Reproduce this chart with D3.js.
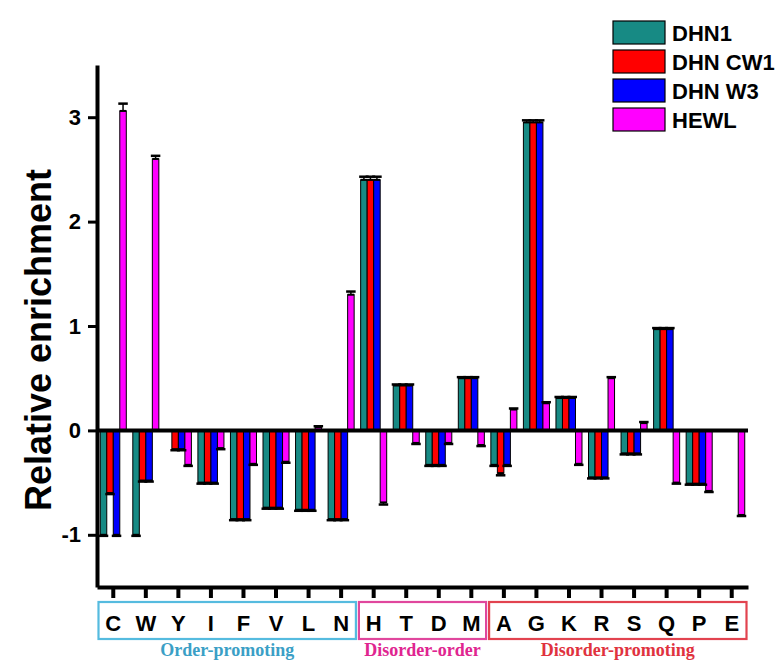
<!DOCTYPE html>
<html>
<head>
<meta charset="utf-8">
<script src="https://cdn.jsdelivr.net/npm/d3@7"></script>
<style>
  html, body { margin: 0; padding: 0; background: #fff; }
  svg { display: block; }
</style>
</head>
<body>
<svg id="chart" width="783" height="662"></svg>
<script>
// Amino-acid residues, grouped as order-promoting, disorder-order and disorder-promoting
const categories = ["C","W","Y","I","F","V","L","N","H","T","D","M","A","G","K","R","S","Q","P","E"];
const seriesNames = ["DHN1", "DHN CW1", "DHN W3", "HEWL"];
const seriesColors = ["#178a84", "#ff0000", "#0000ff", "#ff00ff"];

// Relative enrichment per residue
const dhn1   = [-1, -1, 0, -0.5, -0.85, -0.74, -0.76, -0.85, 2.4, 0.43, -0.33, 0.5, -0.33, 2.95, 0.31, -0.45, -0.22, 0.97, -0.51, 0];
const dhnCW1 = [-0.6, -0.48, -0.18, -0.5, -0.85, -0.74, -0.76, -0.85, 2.4, 0.43, -0.33, 0.5, -0.41, 2.95, 0.31, -0.45, -0.22, 0.97, -0.51, 0];
const dhnW3  = [-1, -0.48, -0.18, -0.5, -0.85, -0.74, -0.76, -0.85, 2.4, 0.43, -0.33, 0.5, -0.33, 2.95, 0.31, -0.45, -0.22, 0.97, -0.51, 0];
const hewl   = [3.06, 2.6, -0.33, -0.17, -0.32, -0.3, 0.03, 1.3, -0.69, -0.12, -0.12, -0.14, 0.2, 0.26, -0.32, 0.5, 0.07, -0.5, -0.58, -0.81];

// Error margins (same order as the values)
const dhn1Err   = [0.01,0.01,0,0.01,0.01,0.01,0.01,0.01,0.03,0.01,0.01,0.01,0.01,0.02,0.01,0.01,0.01,0.01,0.01,0];
const dhnCW1Err = [0.01,0.01,0.01,0.01,0.01,0.01,0.01,0.01,0.03,0.01,0.01,0.01,0.02,0.02,0.01,0.01,0.01,0.01,0.01,0];
const dhnW3Err  = [0.01,0.01,0.01,0.01,0.01,0.01,0.01,0.01,0.03,0.01,0.01,0.01,0.01,0.02,0.01,0.01,0.01,0.01,0.01,0];
const hewlErr   = [0.07,0.03,0.01,0.01,0.01,0.01,0.01,0.03,0.02,0.01,0.01,0.01,0.01,0.01,0.01,0.01,0.01,0.01,0.01,0.01];

const yTicks = [-1, 0, 1, 2, 3];

// Residue groups shown as boxes under the axis
const groupNames  = ["Order-promoting", "Disorder-order", "Disorder-promoting"];
const groupFirst  = ["C", "H", "A"];
const groupLast   = ["N", "M", "E"];
const groupBoxColors  = ["#55bbdf", "#e0479d", "#e2434f"];
const groupTextColors = ["#3b9fc6", "#e02590", "#e0323e"];

const seriesValues = [dhn1, dhnCW1, dhnW3, hewl];
const seriesErrors = [dhn1Err, dhnCW1Err, dhnW3Err, hewlErr];

const svg = d3.select("#chart");
const FONT = "Arial, 'Liberation Sans', sans-serif";

const x = d3.scaleBand().domain(categories).range([97, 748]).paddingInner(0.2).paddingOuter(0.1);
const xs = d3.scaleBand().domain(seriesNames).range([0, x.bandwidth()]);
const y = d3.scaleLinear().domain([-1.5, 3.5]).range([587, 65]);
const color = d3.scaleOrdinal().domain(seriesNames).range(seriesColors);

const rows = [];
categories.forEach((c, i) => {
  seriesNames.forEach((s, k) => {
    rows.push({ cat: c, series: s, value: seriesValues[k][i], err: seriesErrors[k][i] });
  });
});
const drawn = rows.filter(d => d.value !== 0);

// Bars
const bars = svg.append("g");
bars.selectAll("rect").data(drawn).join("rect")
  .attr("x", d => x(d.cat) + xs(d.series))
  .attr("width", xs.bandwidth())
  .attr("y", d => y(Math.max(0, d.value)))
  .attr("height", d => Math.abs(y(d.value) - y(0)))
  .attr("fill", d => color(d.series))
  .attr("stroke", "#000")
  .attr("stroke-width", 1);

// Error bars
const errG = bars.append("g").attr("stroke", "#000");
drawn.forEach(d => {
  const cx = x(d.cat) + xs(d.series) + xs.bandwidth() / 2;
  const sgn = d.value >= 0 ? 1 : -1;
  const tip = d.value + sgn * d.err;
  errG.append("line")
    .attr("x1", cx).attr("x2", cx)
    .attr("y1", y(d.value)).attr("y2", y(tip))
    .attr("stroke-width", 1.5);
  errG.append("line")
    .attr("x1", cx - xs.bandwidth() / 2 - 1.5).attr("x2", cx + xs.bandwidth() / 2 + 1.5)
    .attr("y1", y(tip)).attr("y2", y(tip))
    .attr("stroke-width", 2.5);
  errG.append("line")
    .attr("x1", cx - xs.bandwidth() / 2).attr("x2", cx + xs.bandwidth() / 2)
    .attr("y1", y(d.value)).attr("y2", y(d.value))
    .attr("stroke-width", 2);
});

// Zero line
svg.append("line")
  .attr("x1", x.range()[0]).attr("x2", x.range()[1])
  .attr("y1", y(0)).attr("y2", y(0))
  .attr("stroke", "#000").attr("stroke-width", 4);

// Y axis
const yAxis = svg.append("g")
  .attr("transform", `translate(${x.range()[0]},0)`)
  .call(d3.axisLeft(y).tickValues(yTicks).tickFormat(d => String(d)).tickSize(9).tickSizeOuter(0).tickPadding(7));
yAxis.select(".domain").attr("stroke-width", 4);
yAxis.selectAll(".tick line").attr("stroke-width", 3);
yAxis.selectAll(".tick text").attr("font-family", FONT).attr("font-weight", "bold").attr("font-size", 22).attr("fill", "#000");

// X axis
const xAxis = svg.append("g")
  .attr("transform", `translate(0,${y(-1.5)})`)
  .call(d3.axisBottom(x).tickSize(11).tickSizeOuter(0).tickPadding(17));
xAxis.select(".domain").attr("stroke-width", 4);
xAxis.selectAll(".tick line").attr("stroke-width", 4);
xAxis.selectAll(".tick text").attr("font-family", FONT).attr("font-weight", "bold").attr("font-size", 22).attr("fill", "#000");

// Group boxes and captions
const step = x.step();
groupNames.forEach((g, i) => {
  const x0 = x(groupFirst[i]) - (step - x.bandwidth()) / 2 + 1.5;
  const x1 = x(groupLast[i]) + x.bandwidth() + (step - x.bandwidth()) / 2 - 1.5;
  svg.append("rect")
    .attr("x", x0).attr("y", 602)
    .attr("width", x1 - x0).attr("height", 37)
    .attr("fill", "none").attr("stroke", groupBoxColors[i]).attr("stroke-width", 2.2);
  svg.append("text")
    .attr("x", (x0 + x1) / 2).attr("y", 656)
    .attr("text-anchor", "middle")
    .attr("font-family", "'Times New Roman', 'Liberation Serif', serif")
    .attr("font-weight", "bold").attr("font-size", 18)
    .attr("fill", groupTextColors[i])
    .text(g);
});

// Y axis title
svg.append("text")
  .attr("transform", "translate(51,340) rotate(-90)")
  .attr("text-anchor", "middle")
  .attr("font-family", FONT).attr("font-weight", "bold").attr("font-size", 36)
  .attr("fill", "#000")
  .text("Relative enrichment");

// Legend
const legend = svg.append("g").attr("transform", "translate(613,21)");
seriesNames.forEach((s, i) => {
  const row = legend.append("g").attr("transform", `translate(0,${i * 29})`);
  row.append("rect").attr("width", 52).attr("height", 23)
    .attr("fill", color(s)).attr("stroke", "#000").attr("stroke-width", 1.2);
  row.append("text").attr("x", 59).attr("y", 12).attr("dy", "0.36em")
    .attr("font-family", FONT).attr("font-weight", "bold").attr("font-size", 22)
    .attr("fill", "#000").text(s);
});
</script>
</body>
</html>
